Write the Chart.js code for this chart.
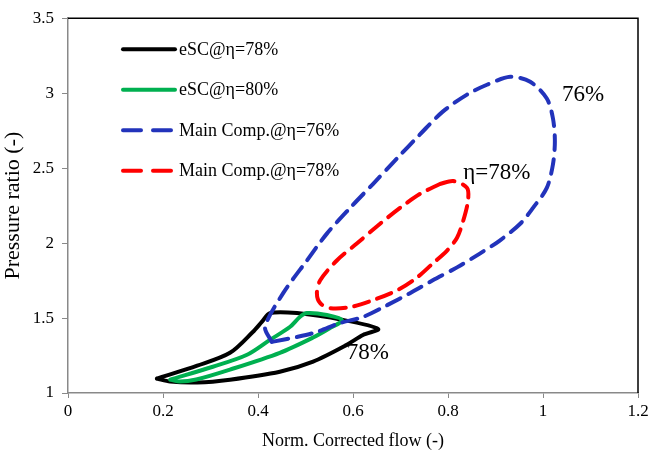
<!DOCTYPE html>
<html>
<head>
<meta charset="utf-8">
<script src="https://cdn.jsdelivr.net/npm/chart.js@4.4.1/dist/chart.umd.min.js"></script>
<style>
  html, body { margin: 0; padding: 0; background: #fff; }
  canvas { display: block; }
</style>
</head>
<body>
<canvas id="mapChart" width="652" height="452"></canvas>
<script>
// Efficiency islands (closed loops), flow vs pressure ratio
const seriesLabels = ['eSC@η=78%', 'eSC@η=80%', 'Main Comp.@η=76%', 'Main Comp.@η=78%'];

const esc78Flow = [0.187, 0.272, 0.341, 0.389, 0.408, 0.425, 0.482, 0.579, 0.653, 0.621, 0.587, 0.516, 0.446, 0.341, 0.272, 0.215, 0.187];
const esc78PR   = [1.096, 1.182, 1.268, 1.407, 1.474, 1.533, 1.533, 1.487, 1.427, 1.387, 1.321, 1.209, 1.142, 1.089, 1.070, 1.076, 1.096];

const esc80Flow = [0.215, 0.305, 0.377, 0.425, 0.467, 0.488, 0.503, 0.545, 0.577, 0.550, 0.516, 0.446, 0.341, 0.270, 0.236, 0.215];
const esc80PR   = [1.089, 1.175, 1.255, 1.354, 1.440, 1.507, 1.533, 1.520, 1.485, 1.430, 1.370, 1.268, 1.156, 1.090, 1.076, 1.089];

const main76Flow = [0.429, 0.415, 0.453, 0.503, 0.545, 0.594, 0.642, 0.693, 0.741, 0.789, 0.840, 0.882, 0.931, 0.973, 1.008, 1.021, 1.025, 1.021, 1.008, 0.979, 0.952, 0.909, 0.867, 0.819, 0.768, 0.720, 0.672, 0.621, 0.573, 0.524, 0.482, 0.429];
const main76PR   = [1.341, 1.440, 1.666, 1.884, 2.063, 2.235, 2.394, 2.566, 2.725, 2.877, 2.990, 3.056, 3.109, 3.076, 2.964, 2.831, 2.679, 2.526, 2.368, 2.235, 2.129, 2.017, 1.930, 1.838, 1.752, 1.666, 1.586, 1.507, 1.467, 1.407, 1.374, 1.341];

const main78Flow = [0.783, 0.811, 0.840, 0.842, 0.832, 0.819, 0.798, 0.768, 0.735, 0.693, 0.642, 0.594, 0.552, 0.531, 0.524, 0.531, 0.566, 0.608, 0.657, 0.699, 0.741, 0.783];
const main78PR   = [2.394, 2.414, 2.368, 2.281, 2.149, 2.036, 1.950, 1.864, 1.771, 1.685, 1.619, 1.573, 1.566, 1.599, 1.666, 1.752, 1.884, 1.997, 2.129, 2.235, 2.328, 2.394];

// Text labels placed on the plot (data coordinates)
const noteTexts = ['76%', 'η=78%', '78%'];
const noteFlow  = [1.04, 0.832, 0.587];
const notePR    = [2.99, 2.467, 1.268];

const xTicks = [0, 0.2, 0.4, 0.6, 0.8, 1, 1.2];
const yTicks = [1, 1.5, 2, 2.5, 3, 3.5];

const serif = "'Liberation Serif', 'Times New Roman', serif";

function toPoints(xs, ys) {
    return xs.map((x, i) => ({ x: x, y: ys[i] }));
}

// Legend drawn inside the plot area, top-left
const innerLegend = {
    id: 'innerLegend',
    afterDraw(chart) {
        const ctx = chart.ctx;
        const area = chart.chartArea;
        ctx.save();
        chart.data.datasets.forEach((ds, i) => {
            const y = area.top + 31 + i * 40.5;
            const x0 = area.left + 55;
            ctx.beginPath();
            ctx.strokeStyle = ds.borderColor;
            ctx.lineWidth = 4;
            ctx.lineCap = 'round';
            ctx.setLineDash(ds.borderDash.length ? [18, 12] : []);
            ctx.moveTo(x0, y);
            ctx.lineTo(x0 + 52, y);
            ctx.stroke();
            ctx.setLineDash([]);
            ctx.fillStyle = '#000';
            ctx.font = '18px ' + serif;
            ctx.textAlign = 'left';
            ctx.textBaseline = 'middle';
            ctx.fillText(ds.label, x0 + 56, y + 1);
        });
        ctx.restore();
    }
};

// Black frame on top and right, plus the island labels
const frameAndNotes = {
    id: 'frameAndNotes',
    afterDraw(chart) {
        const ctx = chart.ctx;
        const a = chart.chartArea;
        ctx.save();
        ctx.strokeStyle = '#000';
        ctx.lineWidth = 1.5;
        ctx.beginPath();
        ctx.moveTo(a.left, a.top);
        ctx.lineTo(a.right, a.top);
        ctx.lineTo(a.right, a.bottom);
        ctx.stroke();

        const xs = chart.scales.x;
        const ys = chart.scales.y;
        ctx.fillStyle = '#000';
        ctx.font = '23px ' + serif;
        ctx.textAlign = 'left';
        ctx.textBaseline = 'middle';
        noteTexts.forEach((t, i) => {
            ctx.fillText(t, xs.getPixelForValue(noteFlow[i]), ys.getPixelForValue(notePR[i]));
        });
        ctx.restore();
    }
};

const ctx = document.getElementById('mapChart').getContext('2d');
new Chart(ctx, {
    type: 'scatter',
    data: {
        datasets: [
            {
                label: seriesLabels[0],
                data: toPoints(esc78Flow, esc78PR),
                borderColor: '#000000',
                borderWidth: 4,
                borderDash: [],
                order: 4
            },
            {
                label: seriesLabels[1],
                data: toPoints(esc80Flow, esc80PR),
                borderColor: '#00b050',
                borderWidth: 4,
                borderDash: [],
                order: 3
            },
            {
                label: seriesLabels[2],
                data: toPoints(main76Flow, main76PR),
                borderColor: '#2233bb',
                borderWidth: 4,
                borderDash: [15, 9],
                order: 2
            },
            {
                label: seriesLabels[3],
                data: toPoints(main78Flow, main78PR),
                borderColor: '#ff0000',
                borderWidth: 4,
                borderDash: [15, 9],
                order: 1
            }
        ]
    },
    options: {
        responsive: false,
        animation: false,
        showLine: true,
        elements: {
            point: { radius: 0, hoverRadius: 0 },
            line: { tension: 0.3, borderCapStyle: 'round', borderJoinStyle: 'round', fill: false }
        },
        layout: { padding: { top: 16, right: 14, left: 0, bottom: 0 } },
        plugins: {
            legend: { display: false },
            tooltip: { enabled: false }
        },
        scales: {
            x: {
                type: 'linear',
                min: 0,
                max: 1.2,
                afterBuildTicks: (scale) => { scale.ticks = xTicks.map(v => ({ value: v })); },
                afterFit: (scale) => { scale.height = 59; },
                grid: { drawOnChartArea: false, drawTicks: true, tickLength: 5, color: '#898989' },
                border: { color: '#898989', width: 1.5 },
                ticks: {
                    color: '#000',
                    font: { family: serif, size: 17 },
                    padding: 3,
                    maxRotation: 0,
                    callback: (v) => String(v)
                },
                title: {
                    display: true,
                    text: 'Norm. Corrected flow (-)',
                    color: '#000',
                    font: { family: serif, size: 18 },
                    padding: { top: 4, bottom: 0 }
                }
            },
            y: {
                type: 'linear',
                min: 1,
                max: 3.5,
                afterBuildTicks: (scale) => { scale.ticks = yTicks.map(v => ({ value: v })); },
                afterFit: (scale) => { scale.width = 68; },
                grid: { drawOnChartArea: false, drawTicks: true, tickLength: 6, color: '#898989' },
                border: { color: '#898989', width: 1.5 },
                ticks: {
                    color: '#000',
                    font: { family: serif, size: 17 },
                    padding: 8,
                    callback: (v) => String(v)
                },
                title: {
                    display: true,
                    text: 'Pressure ratio (-)',
                    color: '#000',
                    font: { family: serif, size: 22 },
                    padding: { top: 0, bottom: 2 }
                }
            }
        }
    },
    plugins: [innerLegend, frameAndNotes]
});
</script>
</body>
</html>
